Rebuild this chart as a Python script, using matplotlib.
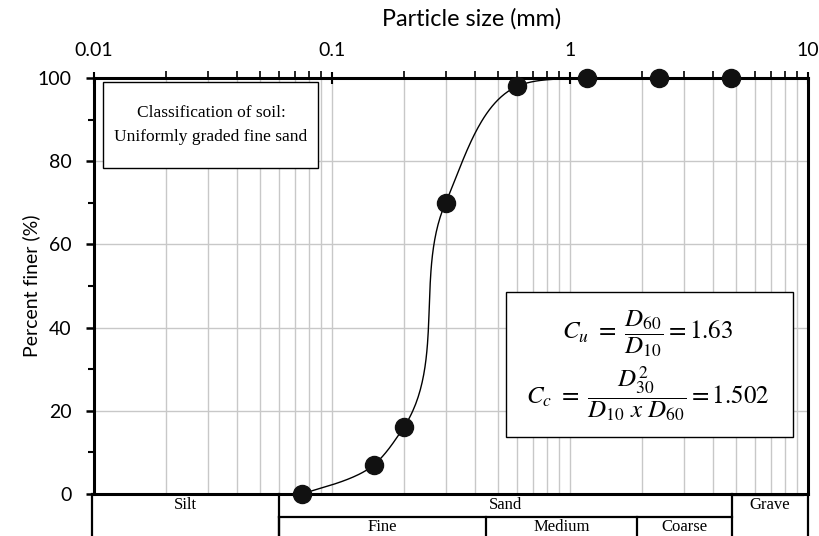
import numpy as np
import matplotlib.pyplot as plt
from matplotlib.lines import Line2D
from matplotlib.patches import Rectangle
from matplotlib.ticker import LogLocator, FixedLocator, NullFormatter

# sieve analysis
size_mm = [0.075, 0.15, 0.2, 0.3, 0.6, 1.18, 2.36, 4.75]
percent_finer = [0, 7, 16, 70, 98, 100, 100, 100]

x_ticks = [0.01, 0.1, 1, 10]
x_tick_labels = ['0.01', '0.1', '1', '10']
y_ticks = [0, 20, 40, 60, 80, 100]

row1 = [('Silt', 92, 279), ('Sand', 279, 732), ('Grave', 732, 808)]
row2 = [('Fine', 279, 486), ('Medium', 486, 637), ('Coarse', 637, 732)]

W, H = 819, 536
plt.rcParams['mathtext.fontset'] = 'stix'
fig = plt.figure(figsize=(W / 100, H / 100), dpi=100)
ax = fig.add_axes([94 / W, 1 - 494 / H, (808 - 94) / W, (494 - 78) / H])

ax.set_xscale('log')
ax.set_xlim(0.01, 10)
ax.set_ylim(0, 100)


def smooth_curve(xs, ys, px_dec=238.0, px_pct=4.16, n=60):
    # chord-length catmull-rom as bezier segments, in screen space
    U = np.log10(xs) * px_dec
    V = np.asarray(ys, float) * px_pct
    P = np.column_stack([U, V])
    m = len(P)
    d = np.linalg.norm(np.diff(P, axis=0), axis=1)
    u = np.diff(P, axis=0) / d[:, None]
    tang = np.zeros_like(P)
    tang[0] = u[0] * 0.5
    tang[-1] = u[-1] * 0.5
    for i in range(1, m - 1):
        tang[i] = (u[i - 1] * d[i] + u[i] * d[i - 1]) / (d[i - 1] + d[i])
    t = np.linspace(0, 1, n)[:, None]
    out = []
    for i in range(m - 1):
        c1 = P[i] + tang[i] * d[i] / 3
        c2 = P[i + 1] - tang[i + 1] * d[i] / 3
        seg = ((1 - t) ** 3) * P[i] + 3 * ((1 - t) ** 2) * t * c1 \
            + 3 * (1 - t) * t ** 2 * c2 + t ** 3 * P[i + 1]
        out.append(seg)
    out = np.vstack(out)
    return 10 ** (out[:, 0] / px_dec), out[:, 1] / px_pct


cx, cy = smooth_curve(size_mm, percent_finer)
ax.plot(cx, cy, color='black', lw=1.0, zorder=3)
ax.plot(size_mm, percent_finer, 'o', color='#111111', ms=13, zorder=5, clip_on=False)

# grid
ax.xaxis.set_minor_locator(LogLocator(base=10, subs=np.arange(2, 10)))
ax.xaxis.set_minor_formatter(NullFormatter())
ax.grid(True, which='both', axis='x', color='#c8c8c8', lw=1.0)
ax.grid(True, which='major', axis='y', color='#c8c8c8', lw=1.0)
ax.set_axisbelow(True)

# ticks
ax.xaxis.tick_top()
ax.set_xticks(x_ticks)
ax.set_xticklabels(x_tick_labels)
ax.set_yticks(y_ticks)
ax.yaxis.set_minor_locator(FixedLocator([10, 30, 50, 70, 90]))
for lab in ax.get_xticklabels() + ax.get_yticklabels():
    lab.set_fontfamily('Lato')
    lab.set_fontsize(14)
ax.tick_params(axis='x', which='major', direction='inout', length=9, width=1.5, pad=9)
ax.tick_params(axis='x', which='minor', direction='out', length=5, width=1.2)
ax.tick_params(axis='y', which='major', direction='out', length=6, width=1.8, pad=10)
ax.tick_params(axis='y', which='minor', direction='out', length=4, width=1.5)

for s in ax.spines.values():
    s.set_linewidth(2.2)
    s.set_color('black')

ax.set_ylabel('Percent finer (%)', fontfamily='Lato', fontsize=14, labelpad=-2)


def fx(px):
    return px / W


def fy(py):
    return 1 - py / H


fig.text(fx(472), fy(19), 'Particle size (mm)', ha='center', va='center',
         family='Lato', fontsize=16.8)

# classification box
fig.add_artist(Rectangle((fx(103), fy(168)), fx(318) - fx(103), fy(82) - fy(168),
                         transform=fig.transFigure, fill=True, facecolor='white',
                         edgecolor='black', lw=1.0, zorder=6))
fig.text(fx(211), fy(125), 'Classification of soil:\nUniformly graded fine sand',
         ha='center', va='center', family='Liberation Serif', fontsize=12.5,
         linespacing=1.7, zorder=7)

# coefficient box
fig.add_artist(Rectangle((fx(506), fy(437)), fx(793) - fx(506), fy(292) - fy(437),
                         transform=fig.transFigure, fill=True, facecolor='white',
                         edgecolor='black', lw=1.0, zorder=6))
fig.text(fx(648), fy(334), r'$C_u\ =\ \dfrac{D_{60}}{D_{10}} = 1.63$',
         ha='center', va='center', fontsize=18, zorder=7)
fig.text(fx(648), fy(394), r'$C_c\ =\ \dfrac{D_{30}^{2}}{D_{10}\ x\ D_{60}} = 1.502$',
         ha='center', va='center', fontsize=18, zorder=7)


# soil classification table under the plot
def hline(x0, x1, y, lw=1.6):
    fig.add_artist(Line2D([fx(x0), fx(x1)], [fy(y), fy(y)], transform=fig.transFigure,
                          color='black', lw=lw))


def vline(x, y0, y1, lw=1.6):
    fig.add_artist(Line2D([fx(x), fx(x)], [fy(y0), fy(y1)], transform=fig.transFigure,
                          color='black', lw=lw))


for name, x0, x1 in row1:
    vline(x0, 494, 536)
    fig.text(fx((x0 + x1) / 2), fy(505), name, ha='center', va='center',
             family='Liberation Serif', fontsize=12)
vline(808, 494, 536)
hline(279, 732, 517)
hline(732, 803, 494.5)
for name, x0, x1 in row2:
    vline(x0, 517, 536)
    fig.text(fx((x0 + x1) / 2), fy(527), name, ha='center', va='center',
             family='Liberation Serif', fontsize=12)

fig.savefig('out.png', dpi=100)
